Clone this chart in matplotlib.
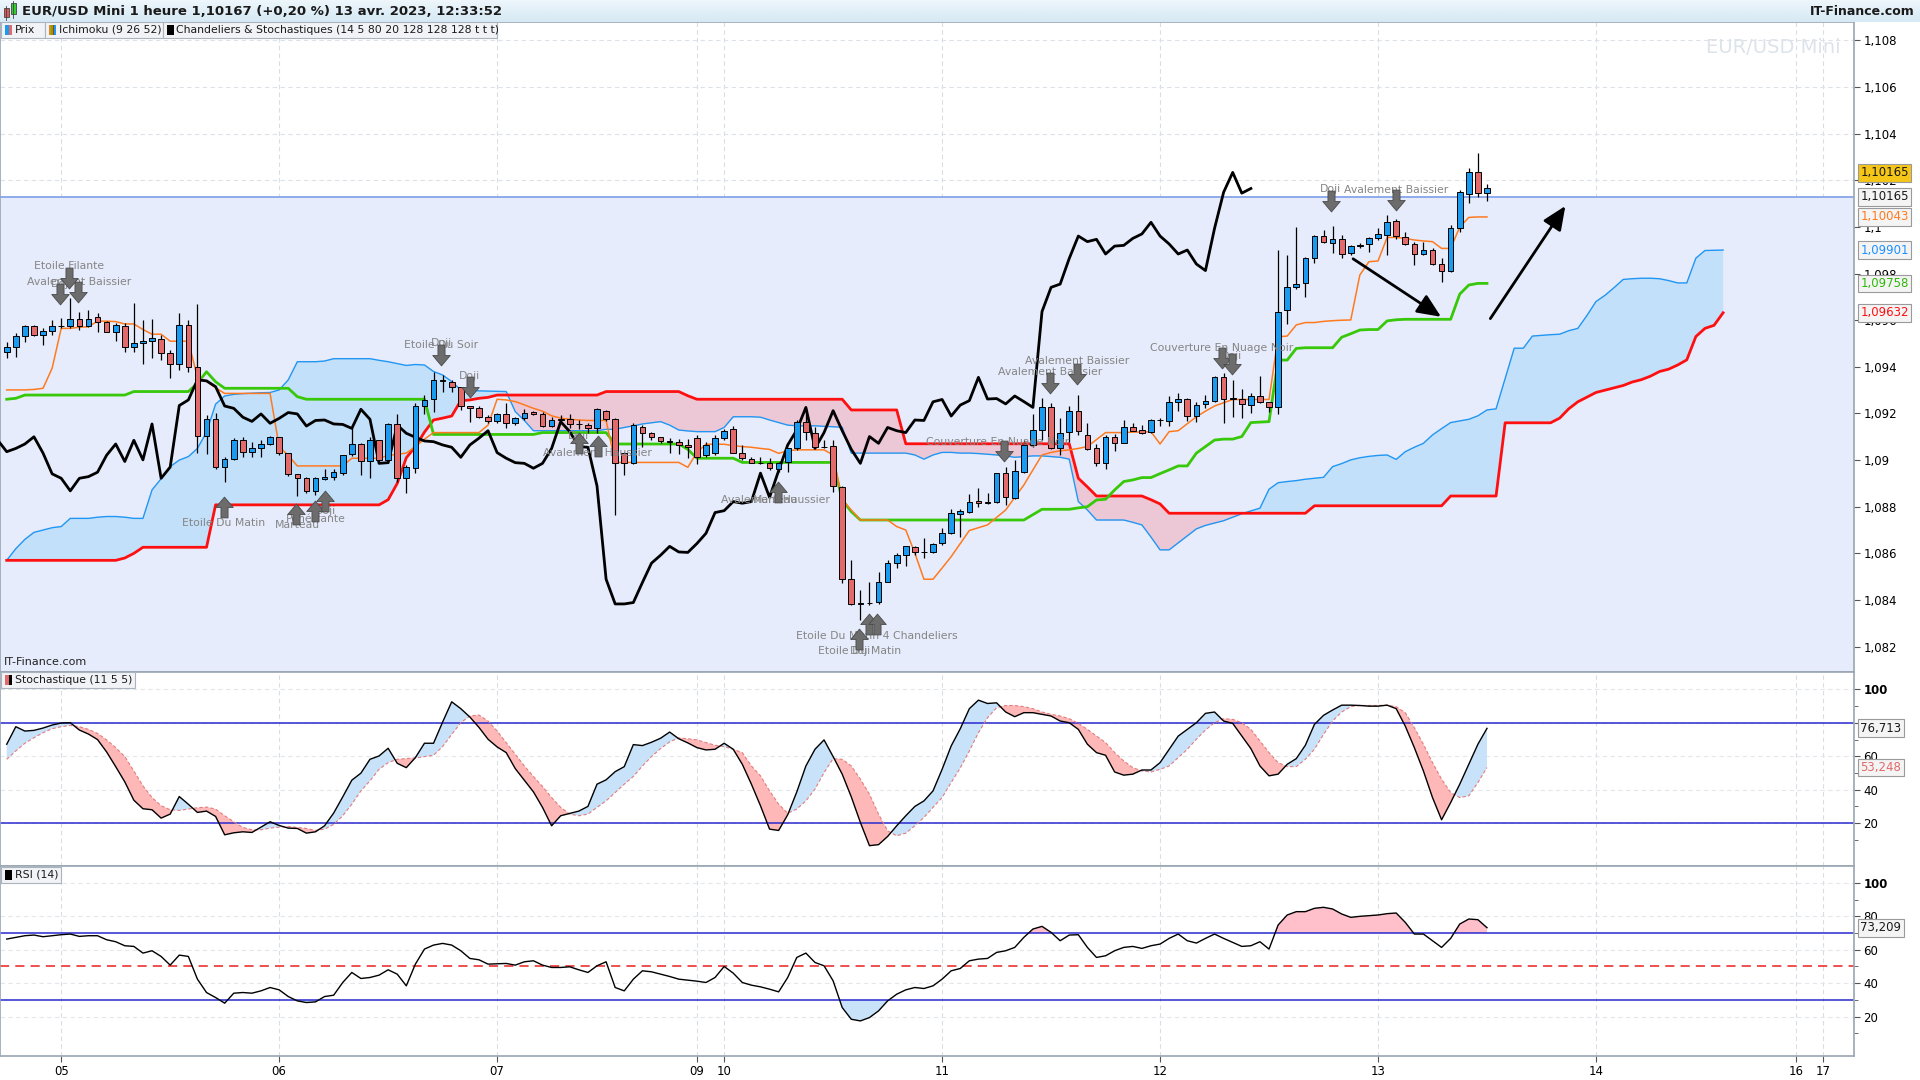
import numpy as np
import matplotlib
matplotlib.use("Agg")
import matplotlib.pyplot as plt
from matplotlib.patches import Rectangle
from matplotlib.path import Path
from matplotlib.transforms import blended_transform_factory

plt.rcParams['font.family'] = ['DejaVu Sans']

# ---------------- data ----------------
# bar index: 0 = start of day 05, one bar per hour
day_ticks = [0, 24, 48, 70, 73, 97, 121, 145, 169, 191, 194]
day_labels = ['05', '06', '07', '09', '10', '11', '12', '13', '14', '16', '17']

bars = np.arange(-6, 158)
cloud_bars = np.arange(-6, 184)

opens = [1.09462, 1.09484, 1.09531, 1.09574, 1.09535, 1.09554,
         1.09574, 1.09576, 1.09604, 1.09577, 1.09612, 1.09594, 1.09548, 1.09574, 1.09484, 1.09501,
         1.09510, 1.09519, 1.09458, 1.09412, 1.09578, 1.09398, 1.09104, 1.09175, 1.08970, 1.09006,
         1.09086, 1.09036, 1.09050, 1.09069, 1.09100, 1.09030, 1.08940, 1.08922, 1.08868, 1.08919,
         1.08926, 1.08944, 1.09024, 1.09069, 1.08994, 1.09085, 1.09001, 1.09155, 1.08922, 1.08965,
         1.09230, 1.09261, 1.09344, 1.09337, 1.09315, 1.09230, 1.09222, 1.09184, 1.09166, 1.09198,
         1.09161, 1.09179, 1.09208, 1.09198, 1.09146, 1.09176, 1.09175, 1.09155, 1.09150, 1.09136,
         1.09212, 1.09175, 1.09029, 1.08989, 1.09140, 1.09118, 1.09098, 1.09082, 1.09079, 1.09064,
         1.09096, 1.09022, 1.09029, 1.09094, 1.09132, 1.09032, 1.09004, 1.08989, 1.08989, 1.08960,
         1.08993, 1.09050, 1.09165, 1.09118, 1.09058, 1.09061, 1.08886, 1.08489, 1.08383, 1.08386,
         1.08393, 1.08479, 1.08558, 1.08592, 1.08626, 1.08606, 1.08606, 1.08646, 1.08689, 1.08769,
         1.08779, 1.08823, 1.08815, 1.08822, 1.08944, 1.08836, 1.08951, 1.09065, 1.09129, 1.09226,
         1.09050, 1.09122, 1.09212, 1.09109, 1.09050, 1.08986, 1.09101, 1.09075, 1.09140, 1.09129,
         1.09120, 1.09172, 1.09166, 1.09250, 1.09260, 1.09189, 1.09241, 1.09255, 1.09355, 1.09262,
         1.09262, 1.09236, 1.09275, 1.09248, 1.09226, 1.09644, 1.09744, 1.09758, 1.09865, 1.09961,
         1.09933, 1.09947, 1.09887, 1.09918, 1.09925, 1.09951, 1.09966, 1.10026, 1.09958, 1.09927,
         1.09884, 1.09901, 1.09841, 1.09810, 1.09994, 1.10140, 1.10234, 1.10145]
highs = [1.09508, 1.09544, 1.09578, 1.09580, 1.09565, 1.09601,
         1.09608, 1.09694, 1.09637, 1.09644, 1.09630, 1.09598, 1.09587, 1.09590, 1.09675, 1.09601,
         1.09604, 1.09537, 1.09472, 1.09630, 1.09601, 1.09670, 1.09194, 1.09201, 1.09012, 1.09094,
         1.09098, 1.09079, 1.09086, 1.09104, 1.09100, 1.09032, 1.08940, 1.08929, 1.08929, 1.08961,
         1.08961, 1.09021, 1.09144, 1.09072, 1.09100, 1.09087, 1.09160, 1.09198, 1.08980, 1.09244,
         1.09280, 1.09377, 1.09365, 1.09344, 1.09315, 1.09232, 1.09230, 1.09194, 1.09204, 1.09244,
         1.09186, 1.09218, 1.09212, 1.09208, 1.09184, 1.09194, 1.09198, 1.09172, 1.09158, 1.09222,
         1.09215, 1.09179, 1.09036, 1.09158, 1.09150, 1.09122, 1.09101, 1.09094, 1.09089, 1.09089,
         1.09108, 1.09079, 1.09108, 1.09132, 1.09146, 1.09065, 1.09015, 1.09012, 1.09008, 1.08993,
         1.09050, 1.09172, 1.09222, 1.09144, 1.09087, 1.09087, 1.08889, 1.08572, 1.08443, 1.08475,
         1.08522, 1.08572, 1.08600, 1.08632, 1.08630, 1.08667, 1.08646, 1.08708, 1.08789, 1.08789,
         1.08855, 1.08879, 1.08858, 1.08946, 1.08972, 1.09001, 1.09087, 1.09198, 1.09265, 1.09247,
         1.09179, 1.09230, 1.09280, 1.09158, 1.09069, 1.09108, 1.09112, 1.09172, 1.09161, 1.09150,
         1.09175, 1.09179, 1.09275, 1.09289, 1.09265, 1.09250, 1.09280, 1.09361, 1.09372, 1.09344,
         1.09304, 1.09286, 1.09361, 1.09251, 1.09901, 1.09880, 1.10001, 1.09873, 1.09965, 1.09987,
         1.10004, 1.09965, 1.09923, 1.09930, 1.09955, 1.09994, 1.10051, 1.10033, 1.09980, 1.09937,
         1.09937, 1.09908, 1.09865, 1.10008, 1.10160, 1.10252, 1.10318, 1.10184]
lows = [1.09437, 1.09441, 1.09508, 1.09532, 1.09494, 1.09537,
        1.09565, 1.09565, 1.09560, 1.09572, 1.09550, 1.09548, 1.09512, 1.09465, 1.09465, 1.09412,
        1.09437, 1.09430, 1.09350, 1.09387, 1.09379, 1.09030, 1.09026, 1.08961, 1.08908, 1.09001,
        1.09015, 1.09015, 1.09015, 1.09065, 1.09022, 1.08930, 1.08846, 1.08858, 1.08851, 1.08915,
        1.08915, 1.08937, 1.09018, 1.08937, 1.08922, 1.08986, 1.08986, 1.08908, 1.08858, 1.08943,
        1.09198, 1.09208, 1.09294, 1.09294, 1.09215, 1.09165, 1.09179, 1.09161, 1.09161, 1.09136,
        1.09150, 1.09172, 1.09194, 1.09144, 1.09140, 1.09165, 1.09136, 1.09132, 1.09118, 1.09118,
        1.09169, 1.08765, 1.08936, 1.08983, 1.09058, 1.09087, 1.09072, 1.09029, 1.09026, 1.09008,
        1.08983, 1.09015, 1.09022, 1.09087, 1.09029, 1.09001, 1.08986, 1.08983, 1.08958, 1.08951,
        1.08951, 1.09044, 1.09087, 1.09050, 1.09050, 1.08865, 1.08472, 1.08379, 1.08315, 1.08379,
        1.08383, 1.08475, 1.08536, 1.08546, 1.08593, 1.08580, 1.08600, 1.08637, 1.08683, 1.08672,
        1.08775, 1.08797, 1.08812, 1.08815, 1.08808, 1.08833, 1.08944, 1.09058, 1.09087, 1.09046,
        1.09022, 1.09079, 1.09108, 1.09044, 1.08975, 1.08960, 1.09041, 1.09072, 1.09126, 1.09112,
        1.09118, 1.09146, 1.09146, 1.09212, 1.09169, 1.09165, 1.09222, 1.09251, 1.09158, 1.09186,
        1.09179, 1.09200, 1.09244, 1.09208, 1.09198, 1.09584, 1.09733, 1.09701, 1.09847, 1.09933,
        1.09890, 1.09865, 1.09880, 1.09908, 1.09894, 1.09944, 1.09880, 1.09947, 1.09923, 1.09837,
        1.09880, 1.09837, 1.09765, 1.09808, 1.09980, 1.10104, 1.10129, 1.10113]
closes = [1.09484, 1.09531, 1.09574, 1.09535, 1.09554, 1.09574,
          1.09576, 1.09604, 1.09577, 1.09607, 1.09594, 1.09548, 1.09578, 1.09484, 1.09501, 1.09510,
          1.09522, 1.09458, 1.09412, 1.09578, 1.09398, 1.09104, 1.09175, 1.08970, 1.09006, 1.09086,
          1.09036, 1.09050, 1.09069, 1.09100, 1.09030, 1.08941, 1.08922, 1.08868, 1.08922, 1.08929,
          1.08948, 1.09021, 1.09069, 1.08994, 1.09085, 1.09001, 1.09155, 1.08922, 1.08970, 1.09234,
          1.09258, 1.09344, 1.09340, 1.09315, 1.09232, 1.09222, 1.09184, 1.09166, 1.09198, 1.09158,
          1.09179, 1.09204, 1.09198, 1.09146, 1.09170, 1.09172, 1.09155, 1.09153, 1.09136, 1.09218,
          1.09175, 1.08986, 1.08989, 1.09150, 1.09115, 1.09098, 1.09082, 1.09079, 1.09065, 1.09055,
          1.09012, 1.09065, 1.09094, 1.09126, 1.09032, 1.09008, 1.08989, 1.08986, 1.08965, 1.08986,
          1.09050, 1.09165, 1.09122, 1.09058, 1.09055, 1.08889, 1.08489, 1.08383, 1.08383, 1.08389,
          1.08475, 1.08558, 1.08592, 1.08630, 1.08606, 1.08604, 1.08642, 1.08686, 1.08775, 1.08783,
          1.08822, 1.08815, 1.08822, 1.08944, 1.08840, 1.08955, 1.09065, 1.09129, 1.09226, 1.09050,
          1.09118, 1.09212, 1.09126, 1.09046, 1.08986, 1.09101, 1.09072, 1.09140, 1.09126, 1.09118,
          1.09172, 1.09170, 1.09250, 1.09260, 1.09189, 1.09236, 1.09255, 1.09355, 1.09262, 1.09264,
          1.09241, 1.09275, 1.09251, 1.09226, 1.09637, 1.09741, 1.09755, 1.09865, 1.09961, 1.09937,
          1.09947, 1.09884, 1.09918, 1.09921, 1.09951, 1.09970, 1.10020, 1.09961, 1.09927, 1.09884,
          1.09901, 1.09841, 1.09813, 1.09994, 1.10149, 1.10234, 1.10145, 1.10165]

tenkan = [1.09301, 1.09301, 1.09301, 1.09303, 1.09308, 1.09394,
          1.09565, 1.09565, 1.09570, 1.09572, 1.09596, 1.09596, 1.09594, 1.09584, 1.09584, 1.09560,
          1.09540, 1.09540, 1.09510, 1.09510, 1.09510, 1.09355, 1.09337, 1.09310, 1.09286, 1.09286,
          1.09286, 1.09286, 1.09286, 1.09286, 1.09058, 1.09020, 1.08975, 1.08975, 1.08975, 1.08975,
          1.08975, 1.08975, 1.09008, 1.09008, 1.09008, 1.09008, 1.09020, 1.09025, 1.09030, 1.09058,
          1.09090, 1.09118, 1.09118, 1.09118, 1.09118, 1.09118, 1.09118, 1.09150, 1.09261, 1.09258,
          1.09251, 1.09237, 1.09222, 1.09210, 1.09190, 1.09180, 1.09175, 1.09172, 1.09170, 1.09170,
          1.09170, 1.08990, 1.08990, 1.08990, 1.08990, 1.08990, 1.08990, 1.08990, 1.08990, 1.08969,
          1.09033, 1.09068, 1.09068, 1.09068, 1.09062, 1.09058, 1.09055, 1.09050, 1.09046, 1.09029,
          1.09040, 1.09044, 1.09044, 1.09044, 1.09044, 1.09022, 1.08829, 1.08786, 1.08743, 1.08743,
          1.08743, 1.08743, 1.08715, 1.08700, 1.08601, 1.08489, 1.08489, 1.08537, 1.08586, 1.08642,
          1.08698, 1.08710, 1.08722, 1.08754, 1.08786, 1.08840, 1.08893, 1.08958, 1.09022, 1.09033,
          1.09040, 1.09044, 1.09050, 1.09058, 1.09088, 1.09118, 1.09118, 1.09118, 1.09120, 1.09120,
          1.09122, 1.09069, 1.09122, 1.09126, 1.09156, 1.09186, 1.09210, 1.09232, 1.09246, 1.09260,
          1.09260, 1.09260, 1.09260, 1.09260, 1.09529, 1.09532, 1.09580, 1.09590, 1.09590, 1.09595,
          1.09598, 1.09600, 1.09601, 1.09794, 1.09851, 1.09854, 1.09955, 1.09955, 1.09951, 1.09944,
          1.09940, 1.09937, 1.09908, 1.09908, 1.10000, 1.10041, 1.10043, 1.10043]

kijun = ([1.09261, 1.09265] + [1.09279] * 12 + [1.09294] * 7 + [1.09329, 1.09379, 1.09336]
         + [1.09308] * 8 + [1.09272] + [1.09261] * 14 + [1.09110] * 12 + [1.09118] * 8
         + [1.09069] * 8 + [1.09046] + [1.09008] * 5 + [1.08990] * 11 + [1.08829, 1.08779]
         + [1.08743] * 19 + [1.08766, 1.08789, 1.08789, 1.08789, 1.08789, 1.08795, 1.08800,
                             1.08829, 1.08832, 1.08872, 1.08908, 1.08915, 1.08925, 1.08925,
                             1.08942, 1.08958, 1.08975, 1.08975, 1.09030, 1.09058, 1.09086,
                             1.09090, 1.09090, 1.09101, 1.09161, 1.09163, 1.09165, 1.09429,
                             1.09429, 1.09479, 1.09482, 1.09482, 1.09482, 1.09482, 1.09527,
                             1.09542, 1.09558, 1.09560, 1.09560, 1.09597, 1.09602]
         + [1.09604] * 6 + [1.09712, 1.09751, 1.09758, 1.09758])

span_a = [1.08570, 1.08620, 1.08660, 1.08690, 1.08700, 1.08710,
          1.08715, 1.08750, 1.08750, 1.08750, 1.08755, 1.08758, 1.08758, 1.08755, 1.08750, 1.08750,
          1.08872, 1.08920, 1.08972, 1.09000, 1.09015, 1.09050, 1.09120, 1.09240, 1.09275, 1.09282,
          1.09285, 1.09287, 1.09289, 1.09290, 1.09301, 1.09344, 1.09422, 1.09422, 1.09422, 1.09425,
          1.09435, 1.09435, 1.09435, 1.09435, 1.09435, 1.09428, 1.09422, 1.09414, 1.09406, 1.09410,
          1.09408, 1.09380, 1.09365, 1.09337, 1.09301, 1.09299, 1.09297, 1.09296, 1.09295, 1.09294,
          1.09208, 1.09170, 1.09126, 1.09126, 1.09126, 1.09126, 1.09126, 1.09126, 1.09126, 1.09126,
          1.09132, 1.09132, 1.09140, 1.09147, 1.09155, 1.09160, 1.09165, 1.09150, 1.09129, 1.09125,
          1.09122, 1.09122, 1.09122, 1.09140, 1.09186, 1.09186, 1.09186, 1.09184, 1.09172, 1.09161,
          1.09150, 1.09147, 1.09147, 1.09147, 1.09145, 1.09143, 1.09141, 1.09030, 1.09030, 1.09030,
          1.09030, 1.09030, 1.09030, 1.09030, 1.09022, 1.09004, 1.09022, 1.09033, 1.09033, 1.09030,
          1.09030, 1.09028, 1.09025, 1.09022, 1.09018, 1.09012, 1.09015, 1.09018, 1.09018, 1.09015,
          1.09012, 1.09004, 1.08822, 1.08786, 1.08743, 1.08743, 1.08743, 1.08743, 1.08733, 1.08722,
          1.08670, 1.08615, 1.08615, 1.08645, 1.08675, 1.08705, 1.08720, 1.08730, 1.08740, 1.08755,
          1.08770, 1.08782, 1.08794, 1.08875, 1.08903, 1.08908, 1.08912, 1.08918, 1.08922, 1.08926,
          1.08972, 1.08985, 1.09001, 1.09010, 1.09016, 1.09020, 1.09022, 1.09003, 1.09036, 1.09055,
          1.09072, 1.09108, 1.09135, 1.09161, 1.09168, 1.09175, 1.09190, 1.09215, 1.09220, 1.09350,
          1.09480, 1.09480, 1.09532, 1.09535, 1.09538, 1.09540, 1.09555, 1.09565, 1.09620, 1.09680,
          1.09707, 1.09740, 1.09775, 1.09778, 1.09780, 1.09780, 1.09778, 1.09770, 1.09760, 1.09760,
          1.09866, 1.09899, 1.09900, 1.09901]

span_b = ([1.08570] * 13 + [1.08580, 1.08600] + [1.08626] * 8 + [1.08808] * 19
          + [1.08830, 1.08900, 1.09010, 1.09058, 1.09120, 1.09172, 1.09180, 1.09189, 1.09255,
             1.09258, 1.09265, 1.09269] + [1.09279] * 12 + [1.09294] * 9 + [1.09276]
          + [1.09261] * 17 + [1.09215] * 6 + [1.09070] * 19 + [1.08922, 1.08885]
          + [1.08846] * 6 + [1.08830, 1.08812] + [1.08772] * 16 + [1.08804] * 15
          + [1.08846] * 6 + [1.09160] * 6
          + [1.09180, 1.09220, 1.09250, 1.09270, 1.09290, 1.09300, 1.09310, 1.09320, 1.09335,
             1.09345, 1.09360, 1.09380, 1.09390, 1.09408, 1.09430, 1.09530, 1.09565, 1.09578,
             1.09632])

stoch_k = [67.2, 77.7, 75.1, 75.5, 76.9, 78.7,
           79.9, 80.1, 75.7, 73.3, 70.0, 62.6, 53.8, 44.7, 33.7, 28.6,
           28.0, 23.0, 25.4, 35.9, 31.3, 26.4, 27.2, 24.0, 13.0, 14.2,
           14.8, 14.4, 17.6, 20.8, 18.6, 17.0, 16.8, 14.0, 14.8, 18.4,
           26.0, 35.7, 45.7, 49.9, 58.2, 60.2, 64.8, 55.8, 53.2, 59.2,
           67.8, 67.8, 80.5, 92.6, 88.5, 83.5, 77.3, 70.2, 65.6, 62.2,
           52.6, 45.7, 38.7, 29.4, 18.4, 24.4, 25.8, 27.2, 30.0, 43.3,
           45.9, 50.8, 53.8, 67.0, 66.4, 68.4, 70.8, 74.5, 70.5, 68.0,
           65.2, 63.8, 64.2, 67.8, 64.2, 55.2, 43.3, 30.4, 16.4, 15.6,
           25.0, 38.7, 54.2, 64.2, 69.8, 59.8, 49.3, 35.7, 20.4, 6.5,
           7.1, 12.0, 18.4, 24.4, 30.0, 33.3, 39.3, 52.2, 66.2, 76.5,
           88.5, 93.6, 91.6, 92.0, 86.5, 83.7, 86.1, 86.1, 85.1, 84.1,
           81.1, 80.1, 76.1, 67.2, 62.2, 60.6, 50.6, 48.7, 49.3, 51.8,
           51.8, 56.2, 64.2, 72.1, 76.1, 80.1, 85.7, 86.5, 81.1, 79.7,
           72.1, 64.6, 54.2, 48.3, 49.3, 55.2, 58.6, 66.6, 79.1, 84.5,
           87.7, 90.6, 90.6, 90.4, 90.0, 90.0, 90.6, 88.5, 78.1, 65.2,
           51.2, 35.3, 22.0, 32.3, 43.3, 55.2, 67.2, 76.713]
stoch_d = [58.2, 63.2, 67.8, 71.1, 74.1, 76.5,
           77.7, 78.5, 77.7, 76.1, 73.7, 69.8, 65.2, 59.8, 51.2, 42.3,
           35.3, 30.4, 28.0, 27.6, 28.4, 29.2, 29.6, 28.4, 24.4, 20.8,
           17.4, 16.0, 16.0, 17.0, 17.6, 18.0, 17.4, 16.8, 15.6, 16.4,
           19.2, 24.4, 31.3, 39.3, 45.3, 52.2, 56.2, 58.2, 58.6, 59.0,
           59.8, 60.6, 65.8, 73.1, 80.1, 84.1, 84.7, 81.1, 75.1, 68.2,
           61.2, 54.2, 47.9, 41.9, 35.3, 29.4, 25.4, 24.4, 25.4, 29.4,
           33.3, 38.3, 43.3, 47.9, 54.2, 59.8, 64.6, 68.6, 71.0, 70.5,
           69.8, 68.2, 66.6, 65.8, 64.2, 62.2, 54.2, 48.3, 39.3, 31.3,
           25.9, 28.4, 33.3, 40.3, 50.2, 58.6, 58.2, 54.2, 46.3, 37.3,
           25.4, 15.4, 12.4, 14.0, 18.4, 23.4, 29.4, 35.3, 44.3, 53.0,
           63.2, 74.1, 83.1, 89.1, 90.4, 90.4, 89.7, 88.5, 86.5, 85.1,
           84.1, 82.5, 79.7, 76.1, 72.1, 68.2, 62.2, 57.2, 53.2, 51.2,
           50.6, 52.2, 54.2, 59.2, 64.2, 70.2, 75.7, 80.1, 82.5, 82.1,
           80.1, 76.1, 69.2, 62.2, 56.2, 53.8, 53.8, 58.2, 64.2, 73.1,
           81.1, 86.5, 89.7, 90.4, 90.4, 90.4, 90.6, 89.7, 86.1, 77.1,
           67.2, 56.2, 46.3, 38.3, 35.3, 36.3, 44.3, 53.248]
rsi = [66.4, 67.4, 68.4, 68.8, 67.8, 68.4,
       69.0, 69.4, 68.0, 68.4, 68.4, 66.0, 64.8, 62.4, 62.0, 58.0,
       59.4, 56.0, 50.8, 56.8, 56.0, 42.4, 34.4, 31.4, 28.0, 34.0,
       34.4, 34.0, 35.4, 37.4, 36.0, 32.0, 29.4, 28.4, 28.8, 32.0,
       32.8, 40.4, 46.4, 42.8, 43.4, 44.8, 48.0, 45.4, 38.4, 51.4,
       60.4, 62.8, 63.8, 62.8, 59.4, 54.8, 54.0, 51.4, 51.6, 51.8,
       50.8, 52.8, 53.4, 50.8, 49.4, 49.4, 49.8, 48.0, 46.4, 50.4,
       52.8, 37.4, 35.4, 42.4, 47.4, 46.8, 45.4, 44.0, 42.4, 41.8,
       41.2, 40.4, 43.4, 50.0, 46.0, 40.4, 38.8, 37.8, 36.4, 34.8,
       43.4, 55.4, 58.0, 52.4, 50.4, 41.4, 25.4, 18.4, 17.4, 19.4,
       23.4, 29.4, 33.4, 36.0, 37.4, 36.8, 38.4, 42.4, 47.4, 48.8,
       53.4, 54.4, 54.8, 58.4, 59.4, 61.4, 67.4, 72.4, 74.0, 70.4,
       65.4, 68.8, 69.0, 61.4, 55.4, 56.4, 59.4, 61.4, 62.0, 60.8,
       62.4, 63.4, 66.8, 69.4, 65.4, 64.0, 66.8, 69.4, 66.8, 64.4,
       62.0, 62.4, 64.8, 60.4, 74.8, 80.8, 82.8, 82.8, 84.8, 85.4,
       84.4, 81.4, 79.4, 80.0, 80.4, 80.8, 81.6, 82.0, 76.4, 69.4,
       69.4, 65.4, 61.4, 66.8, 75.4, 78.4, 78.0, 73.209]

chikou_shift = 26
price_line = 1.1013        # drawn level of the 1,10165 marker line

# candle patterns: (text, bar, price)
pattern_texts = [
    ("Etoile Filante", 0.9, 1.09834), ("Avalement Baissier", 2.0, 1.09765), ("Doji", 0.0, 1.09755),
    ("Etoile Du Soir", 41.8, 1.09492), ("Doji", 41.9, 1.09503), ("Doji", 45.0, 1.09361),
    ("Doji", 57.0, 1.09104), ("Avalement Haussier", 59.0, 1.09030),
    ("Etoile Du Matin", 17.9, 1.08731), ("Marteau", 26.0, 1.08720), ("Pénétrante", 28.0, 1.08747),
    ("Doji", 29.1, 1.08783), ("Avalement Haussier", 78.7, 1.08830), ("Marteau", 78.7, 1.08830),
    ("Etoile Du Matin 4 Chandeliers", 89.8, 1.08247), ("Etoile Du Matin", 87.9, 1.08179),
    ("Doji", 88.0, 1.08179), ("Couverture En Nuage Noir", 103.1, 1.09077),
    ("Avalement Baissier", 111.9, 1.09424), ("Avalement Baissier", 108.9, 1.09377),
    ("Couverture En Nuage Noir", 127.8, 1.09482), ("Doji", 128.9, 1.09445),
    ("Doji", 139.8, 1.10164), ("Avalement Baissier", 147.0, 1.10159),
]
down_arrows = [(-0.1, 1.09713), (1.9, 1.09723), (0.9, 1.09781), (41.8, 1.09450), (45.0, 1.09314),
               (103.8, 1.09040), (108.9, 1.09329), (111.9, 1.09371), (127.8, 1.09440),
               (128.9, 1.09413), (139.8, 1.10112), (147.0, 1.10117)]
up_arrows = [(17.9, 1.08799), (25.9, 1.08767), (28.0, 1.08783), (29.0, 1.08825), (57.0, 1.09072),
             (59.1, 1.09062), (78.9, 1.08862), (87.9, 1.08232), (89.0, 1.08295), (89.8, 1.08295)]
trend_arrows = [((142.0, 1.09870), (152.2, 1.09608)), ((157.2, 1.09597), (165.8, 1.10100))]

# ---------------- figure ----------------
W, H = 1568.0, 882.0
def fx(px):
    return px / W
def fy(py):
    return 1 - py / H

fig = plt.figure(figsize=(19.2, 10.8), dpi=100)
fig.patch.set_facecolor('white')

ax = fig.add_axes([0, fy(549), fx(1514), (549 - 18) / H])
ax_s = fig.add_axes([0, fy(707), fx(1514), (707 - 549) / H], sharex=ax)
ax_r = fig.add_axes([0, fy(862), fx(1514), (862 - 707) / H], sharex=ax)

XMIN, XMAX = -6.74, 197.4
for a in (ax, ax_s, ax_r):
    a.set_facecolor('white')
    a.yaxis.tick_right()
    a.tick_params(axis='y', labelsize=8.5, length=4, color='#555', pad=3)
    for s in a.spines.values():
        s.set_color('#9aa6b2')
        s.set_linewidth(1.2)
    for d in day_ticks:
        a.axvline(d, color='#d9dee4', lw=0.8, ls=(0, (4, 3)), zorder=0)
ax.set_xlim(XMIN, XMAX)

# ---- main price panel ----
ax.set_ylim(1.0809, 1.10879)
yt = np.arange(1.082, 1.1081, 0.002)
ax.set_yticks(yt)
ax.set_yticklabels([('%.3f' % v).rstrip('0').rstrip('.').replace('.', ',') for v in yt])
for v in yt:
    ax.axhline(v, color='#dde2e8', lw=0.8, ls=(0, (4, 3)), zorder=0)
ax.axhspan(1.0809, price_line, color='#e6ecfb', zorder=0.5)
ax.axhline(price_line, color='#7d9ee8', lw=1.2, zorder=1)

sa = np.array(span_a)
sb = np.array(span_b)
ax.fill_between(cloud_bars, sa, sb, where=sa >= sb, interpolate=True, color='#c3e0fa', zorder=1.5, lw=0)
ax.fill_between(cloud_bars, sa, sb, where=sa < sb, interpolate=True, color='#ecc8d6', zorder=1.5, lw=0)
ax.plot(cloud_bars, sa, color='#2196f3', lw=1.0, zorder=2)
ax.plot(cloud_bars, sb, color='#ff1010', lw=2.0, zorder=2)
ax.plot(bars, kijun, color='#38c80a', lw=2.0, zorder=3)
ax.plot(bars, tenkan, color='#ff7a1f', lw=1.1, zorder=3)
ax.plot(bars - chikou_shift, closes, color='black', lw=2.0, zorder=3)

o = np.array(opens)
c = np.array(closes)
cols = np.where(c >= o, '#1a9bf0', '#e26a6a')
body = np.maximum(np.abs(c - o), 0.00003)
ax.vlines(bars, lows, highs, color='black', lw=0.9, zorder=4)
ax.bar(bars, body, bottom=np.minimum(o, c), width=0.62, color=cols, edgecolor='black',
       linewidth=0.7, zorder=5)

for txt, xb, yp in pattern_texts:
    ax.text(xb, yp, txt, ha='center', va='center', fontsize=7.8, color='#858585', zorder=6)

# block arrow marker (square tail + triangle head)
down_path = Path([(-0.17, 0.5), (0.17, 0.5), (0.17, 0.0), (0.42, 0.0), (0.0, -0.5),
                  (-0.42, 0.0), (-0.17, 0.0), (-0.17, 0.5)], closed=True)
up_path = Path([(x, -y) for x, y in down_path.vertices], closed=True)
ax.plot([p[0] for p in down_arrows], [p[1] for p in down_arrows], ls='none', marker=down_path,
        ms=15, mfc='#6c6c6c', mec='#4a4a4a', mew=0.6, zorder=7)
ax.plot([p[0] for p in up_arrows], [p[1] for p in up_arrows], ls='none', marker=up_path,
        ms=15, mfc='#6c6c6c', mec='#4a4a4a', mew=0.6, zorder=7)

for start, end in trend_arrows:
    ax.annotate('', xy=end, xytext=start,
                arrowprops=dict(arrowstyle='-|>,head_width=0.35,head_length=0.8', lw=2,
                                color='black', mutation_scale=18), zorder=8)

ax.text(0.993, 0.975, 'EUR/USD Mini', transform=ax.transAxes, ha='right', va='top',
        fontsize=14, color='#dde3ea', zorder=6)
ax.text(0.002, 0.008, 'IT-Finance.com', transform=ax.transAxes, ha='left', va='bottom',
        fontsize=8, color='#222222', zorder=6)

tr = blended_transform_factory(ax.transAxes, ax.transData)
value_boxes = [("1,10165", 1.10233, '#1a1a1a', '#f5c518'), ("1,10165", price_line, '#1a1a1a', '#f4f4f4'),
               ("1,10043", 1.10043, '#ff7a1f', '#f4f4f4'), ("1,09901", 1.09901, '#1e90ff', '#f4f4f4'),
               ("1,09758", 1.09758, '#2fb80a', '#f4f4f4'), ("1,09632", 1.09632, '#ff1010', '#f4f4f4')]
for txt, yv, tc, fc in value_boxes:
    ax.text(1.0035, yv, txt, transform=tr, ha='left', va='center', fontsize=8.5, color=tc,
            clip_on=False, zorder=10,
            bbox=dict(boxstyle='square,pad=0.2', fc=fc, ec='#9a9a9a', lw=0.8))

# ---- stochastic panel ----
ax_s.set_ylim(-5.5, 110.3)
ax_s.set_yticks([20, 40, 60, 80, 100])
ax_s.set_yticklabels(['20', '40', '60', '80', '100'])
ax_s.get_yticklabels()[-1].set_fontweight('bold')
ax_s.set_yticks([10, 30, 50, 70, 90], minor=True)
ax_s.tick_params(axis='y', which='minor', length=3, color='#555')
for v in (20, 40, 60, 80, 100):
    ax_s.axhline(v, color='#e3e6ea', lw=0.8, ls=(0, (4, 3)), zorder=0)
k = np.array(stoch_k)
dd = np.array(stoch_d)
ax_s.fill_between(bars, k, dd, where=k >= dd, interpolate=True, color='#c8e2fa', lw=0, zorder=1)
ax_s.fill_between(bars, k, dd, where=k < dd, interpolate=True, color='#ffb8b8', lw=0, zorder=1)
ax_s.axhline(80, color='#2a2ad0', lw=1.1, zorder=2)
ax_s.axhline(20, color='#2a2ad0', lw=1.1, zorder=2)
ax_s.plot(bars, dd, color='#e27d7d', lw=0.8, ls=(0, (3, 2)), zorder=3)
ax_s.plot(bars, k, color='black', lw=1.0, zorder=4)
trs = blended_transform_factory(ax_s.transAxes, ax_s.transData)
ax_s.text(1.0035, 76.713, '76,713', transform=trs, ha='left', va='center', fontsize=8.5,
          color='#1a1a1a', clip_on=False, zorder=10,
          bbox=dict(boxstyle='square,pad=0.2', fc='#f4f4f4', ec='#9a9a9a', lw=0.8))
ax_s.text(1.0035, 53.248, '53,248', transform=trs, ha='left', va='center', fontsize=8.5,
          color='#e26a6a', clip_on=False, zorder=10,
          bbox=dict(boxstyle='square,pad=0.2', fc='#f4f4f4', ec='#9a9a9a', lw=0.8))

# ---- RSI panel ----
ax_r.set_ylim(-3.3, 110.3)
ax_r.set_yticks([20, 40, 60, 80, 100])
ax_r.set_yticklabels(['20', '40', '60', '80', '100'])
ax_r.get_yticklabels()[-1].set_fontweight('bold')
ax_r.set_yticks([10, 30, 50, 70, 90], minor=True)
ax_r.tick_params(axis='y', which='minor', length=3, color='#555')
for v in (20, 40, 60, 80, 100):
    ax_r.axhline(v, color='#e3e6ea', lw=0.8, ls=(0, (4, 3)), zorder=0)
r = np.array(rsi)
ax_r.fill_between(bars, r, 70, where=r >= 70, interpolate=True, color='#ffc0cc', lw=0, zorder=1)
ax_r.fill_between(bars, r, 30, where=r <= 30, interpolate=True, color='#c8e2fa', lw=0, zorder=1)
ax_r.axhline(70, color='#2a2ad0', lw=1.1, zorder=2)
ax_r.axhline(30, color='#2a2ad0', lw=1.1, zorder=2)
ax_r.axhline(50, color='#e82020', lw=1.1, ls=(0, (6, 4)), zorder=2)
ax_r.plot(bars, r, color='black', lw=1.0, zorder=4)
trr = blended_transform_factory(ax_r.transAxes, ax_r.transData)
ax_r.text(1.0035, 73.209, '73,209', transform=trr, ha='left', va='center', fontsize=8.5,
          color='#1a1a1a', clip_on=False, zorder=10,
          bbox=dict(boxstyle='square,pad=0.2', fc='#f4f4f4', ec='#9a9a9a', lw=0.8))

# x axis
for a in (ax, ax_s):
    a.tick_params(axis='x', bottom=False, labelbottom=False)
ax_r.set_xticks(day_ticks)
ax_r.set_xticklabels(day_labels)
ax_r.tick_params(axis='x', labelsize=8.5, length=4, color='#555', pad=3)

# ---- title bar ----
tb = fig.add_axes([0, fy(18), 1, 18 / H])
grad = np.linspace(0, 1, 50).reshape(-1, 1)
tb.imshow(grad, aspect='auto', cmap=matplotlib.colors.LinearSegmentedColormap.from_list(
    'tb', ['#eef7fc', '#d6e9f4']), extent=[0, 1, 0, 1])
tb.set_xlim(0, 1)
tb.set_ylim(0, 1)
tb.axis('off')
tb.add_patch(Rectangle((fx(3), 0.22), fx(4), 0.4, fc='#e05555', ec='#444', lw=0.6))
tb.add_patch(Rectangle((fx(9), 0.35), fx(4), 0.5, fc='#33cc33', ec='#444', lw=0.6))
tb.plot([fx(5), fx(5)], [0.1, 0.75], color='#444', lw=0.6)
tb.plot([fx(11), fx(11)], [0.2, 0.95], color='#444', lw=0.6)
tb.text(fx(18), 0.5, 'EUR/USD Mini 1 heure 1,10167 (+0,20 %) 13 avr. 2023, 12:33:52',
        ha='left', va='center', fontsize=9.5, fontweight='bold', color='#1a1a1a')
tb.text(fx(1564), 0.5, 'IT-Finance.com', ha='right', va='center', fontsize=9,
        fontweight='bold', color='#1a1a1a')

# ---- legend boxes ----
def label_box(x0, x1, y0, y1, text, icon_cols):
    fig.patches.append(Rectangle((fx(x0), fy(y1)), fx(x1 - x0), (y1 - y0) / H,
                                 transform=fig.transFigure, fc='#f1f3f6', ec='#a9b4bf',
                                 lw=0.8, zorder=20))
    w = 6.0 / len(icon_cols)
    for i, col in enumerate(icon_cols):
        fig.patches.append(Rectangle((fx(x0 + 3 + i * w), fy(y1 - 2.5)), fx(w), (y1 - y0 - 5) / H,
                                     transform=fig.transFigure, fc=col, ec='none', zorder=21))
    fig.text(fx(x0 + 11), fy((y0 + y1) / 2), text, ha='left', va='center', fontsize=7.8,
             color='#1a1a1a', zorder=22)

label_box(1, 37, 18, 31, 'Prix', ['#1a9bf0', '#e26a6a'])
label_box(37, 133, 18, 31, 'Ichimoku (9 26 52)', ['#ff7a1f', '#38c80a', '#ff1010', '#2196f3'])
label_box(133, 406, 18, 31, 'Chandeliers & Stochastiques (14 5 80 20 128 128 128 t t t)', ['#000000'])
label_box(1, 110, 549, 562, 'Stochastique (11 5 5)', ['#e26a6a', '#000000'])
label_box(1, 50, 708, 721, 'RSI (14)', ['#000000'])

fig.savefig('out.png', dpi=100)
